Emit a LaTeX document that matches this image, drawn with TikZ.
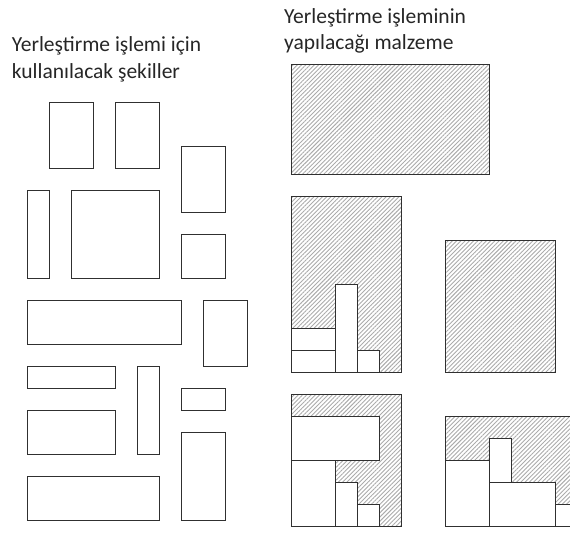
\documentclass[tikz,border=0pt]{standalone}
\usepackage{fontspec}
\setmainfont{Carlito}
\usetikzlibrary{patterns.meta}
\definecolor{ink}{HTML}{262626}
\definecolor{edge}{HTML}{303030}
\definecolor{hatch}{HTML}{ABABAB}

\begin{document}
\begin{tikzpicture}[x=22pt,y=22pt,
  font=\fontsize{21.5}{26.5}\selectfont,text=ink,
  piece/.style={draw=edge,line width=1pt,fill=white},
  sheet/.style={draw=edge,line width=1pt,
    pattern={Lines[angle=45,distance=3pt,line width=0.9pt]},
    pattern color=hatch}]
  \clip (-1.241,-0.532) rectangle (24.668,23.65);

  % shapes to be placed
  \node[anchor=base west,align=left,inner sep=0] (shapesTitle)
    at (-0.71,20.10) {Yerleştirme işlemi için\\kullanılacak şekiller};
  \foreach \xa/\ya/\xb/\yb in {1/16/3/19, 4/16/6/19, 7/14/9/17,
      0/11/1/15, 2/11/6/15, 7/11/9/13, 0/8/7/10, 8/7/10/10,
      0/6/4/7, 5/3/6/7, 7/5/9/6, 0/3/4/5, 7/0/9/4, 0/0/6/2}
    \draw[piece] (\xa,\ya) rectangle (\xb,\yb);

  % material sheets
  \node[anchor=base west,align=left,inner sep=0] (sheetTitle)
    at (11.67,21.38) {Yerleştirme işleminin\\yapılacağı malzeme};
  \begin{scope}[shift={(12,-0.29)}]
    \draw[sheet] (0,16) rectangle (9,21);
    \draw[sheet] (0,7) rectangle (5,15);
    \draw[sheet] (7,7) rectangle (12,13);
    \draw[sheet] (0,0) rectangle (5,6);
    \draw[sheet] (7,0) rectangle (13,5);
    \foreach \xa/\ya/\xb/\yb in {0/8/2/9, 0/7/2/8, 2/7/3/11, 3/7/4/8,
        0/3/4/5, 0/0/2/3, 2/0/3/2, 3/0/4/1,
        7/0/9/3, 9/2/10/4, 9/0/12/2, 12/0/13/1}
      \draw[piece] (\xa,\ya) rectangle (\xb,\yb);
  \end{scope}
\end{tikzpicture}
\end{document}
